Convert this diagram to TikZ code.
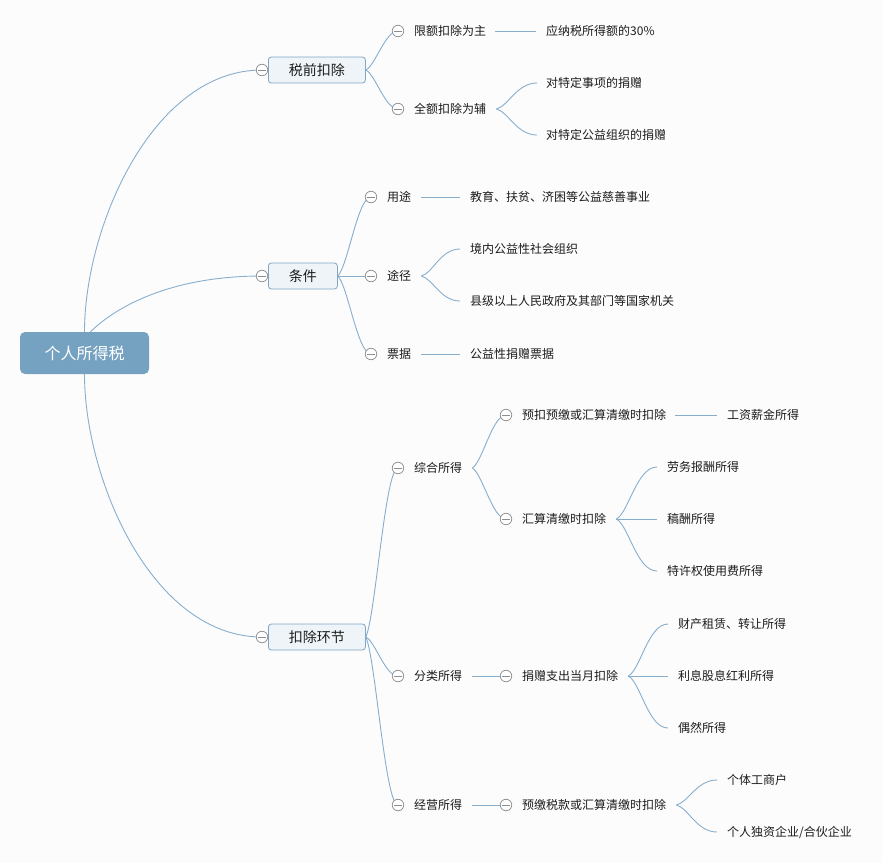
\documentclass[tikz,border=0pt]{standalone}
\usepackage{fontspec}
\newfontfamily\cjk{Noto Sans CJK SC}
\usetikzlibrary{calc}
\pgfdeclarelayer{bgl}
\pgfdeclarelayer{edges}
\pgfsetlayers{bgl,edges,main}
\definecolor{lineblue}{HTML}{88AECD}
\definecolor{rootblue}{HTML}{76A2C2}
\definecolor{boxblue}{HTML}{7FA7C5}
\definecolor{boxfill}{HTML}{EEF4F8}
\definecolor{circgray}{HTML}{8E8E8E}
\definecolor{bgcol}{HTML}{FCFCFD}
\definecolor{txtcol}{HTML}{1C1C1C}
\tikzset{
  conn/.style={draw=lineblue, line width=0.9pt},
  mini/.style={circle, draw=circgray, fill=white, minimum size=11.5pt, inner sep=0pt, line width=0.75pt,
    path picture={\draw[circgray, line width=0.75pt] ([xshift=-4pt]path picture bounding box.center) -- ([xshift=4pt]path picture bounding box.center);}},
  txt/.style={anchor=west, inner sep=0pt, text=txtcol, font=\cjk\fontsize{12}{14}\selectfont},
  topic/.style={anchor=west, rectangle, rounded corners=3pt, draw=boxblue, fill=boxfill, line width=0.8pt,
    text=txtcol, font=\cjk\fontsize{14}{16}\selectfont, minimum height=26pt, inner xsep=20.5pt, inner ysep=0pt},
  rootbox/.style={rectangle, rounded corners=5pt, fill=rootblue, text=white, font=\cjk\fontsize{16}{18}\selectfont,
    minimum width=129pt, minimum height=42pt, inner sep=0pt}
}
% curve ending horizontally at a leaf text
\newcommand\curv[2]{\draw[conn] let \p1=(#1), \p2=(#2) in (\p1) .. controls ({\x1+0.3*(\x2-\x1)},{\y1+0.12*(\y2-\y1)}) and ({\x1+0.5*(\x2-\x1)},\y2) .. (\p2);}
% curve ending at the centre of a collapse circle (hidden under it)
\newcommand\curc[2]{\draw[conn] let \p1=(#1), \p2=(#2) in (\p1) .. controls ({\x1+0.3*(\x2-\x1)},{\y1+0.12*(\y2-\y1)}) and ({\x2-0.4*(\x2-\x1)},\y2) .. (\p2);}
\begin{document}
\begin{tikzpicture}[x=1pt,y=1pt]
\begin{pgfonlayer}{bgl}
\fill[bgcol] (0,0) rectangle (882,-863);
\end{pgfonlayer}
\useasboundingbox (0,0) rectangle (882,-863);

% root
\node[rootbox] (root) at (84.5,-353) {个人所得税};

% level 1
\node[topic] (t1) at (268,-70) {税前扣除};
\node[topic] (t2) at (268,-276) {条件};
\node[topic] (t3) at (268,-637) {扣除环节};
\node[mini] (ct1) at ([xshift=-6pt]t1.west) {};
\node[mini] (ct2) at ([xshift=-6pt]t2.west) {};
\node[mini] (ct3) at ([xshift=-6pt]t3.west) {};

% ---- 税前扣除
\node[mini] (ca1) at (398,-31) {};
\node[txt] (a1) at (414,-31) {限额扣除为主};
\node[mini] (ca2) at (398,-109) {};
\node[txt] (a2) at (414,-109) {全额扣除为辅};
\node[txt] (a11) at (546,-31) {应纳税所得额的30\%};
\node[txt] (a21) at (546,-83) {对特定事项的捐赠};
\node[txt] (a22) at (546,-135) {对特定公益组织的捐赠};
\coordinate (a2o) at ([xshift=10pt]a2.east);

% ---- 条件
\node[mini] (cb1) at (371,-197) {};
\node[txt] (b1) at (387,-197) {用途};
\node[mini] (cb2) at (371,-276) {};
\node[txt] (b2) at (387,-276) {途径};
\node[mini] (cb3) at (371,-354) {};
\node[txt] (b3) at (387,-354) {票据};
\node[txt] (b11) at (470,-197) {教育、扶贫、济困等公益慈善事业};
\node[txt] (b21) at (470,-249) {境内公益性社会组织};
\node[txt] (b22) at (470,-301) {县级以上人民政府及其部门等国家机关};
\node[txt] (b31) at (470,-354) {公益性捐赠票据};
\coordinate (b2o) at ([xshift=10pt]b2.east);

% ---- 扣除环节
\node[mini] (cc1) at (398,-468) {};
\node[txt] (c1) at (414,-468) {综合所得};
\node[mini] (cc2) at (398,-676) {};
\node[txt] (c2) at (414,-676) {分类所得};
\node[mini] (cc3) at (398,-805) {};
\node[txt] (c3) at (414,-805) {经营所得};

\node[mini] (cd1) at (506,-415) {};
\node[txt] (d1) at (522,-415) {预扣预缴或汇算清缴时扣除};
\node[mini] (cd2) at (506,-519) {};
\node[txt] (d2) at (522,-519) {汇算清缴时扣除};
\coordinate (c1o) at ([xshift=10pt]c1.east);
\node[txt] (d11) at (727,-415) {工资薪金所得};
\node[txt] (d21) at (667,-467) {劳务报酬所得};
\node[txt] (d22) at (667,-519) {稿酬所得};
\node[txt] (d23) at (667,-571) {特许权使用费所得};
\coordinate (d2o) at ([xshift=10pt]d2.east);

\node[mini] (ce1) at (506,-676) {};
\node[txt] (e1) at (522,-676) {捐赠支出当月扣除};
\node[txt] (e11) at (678,-624) {财产租赁、转让所得};
\node[txt] (e12) at (678,-676) {利息股息红利所得};
\node[txt] (e13) at (678,-728) {偶然所得};
\coordinate (e1o) at ([xshift=10pt]e1.east);

\node[mini] (cf1) at (506,-805) {};
\node[txt] (f1) at (522,-805) {预缴税款或汇算清缴时扣除};
\node[txt] (f11) at (727,-780) {个体工商户};
\node[txt] (f12) at (727,-832) {个人独资企业/合伙企业};
\coordinate (f1o) at ([xshift=10pt]f1.east);

% ================= connectors
\begin{pgfonlayer}{edges}
\draw[conn] (root.north) .. controls +(0,104) and +(-110,0) .. (ct1.center);
\draw[conn] ([xshift=6pt]root.north) .. controls +(19,19) and +(-100,0) .. (ct2.center);
\draw[conn] (root.south) .. controls +(0,-105) and +(-110,0) .. (ct3.center);

\curc{t1.east}{ca1.center}
\curc{t1.east}{ca2.center}
\draw[conn] ([xshift=9pt]a1.east) -- ([xshift=-10pt]a11.west);
\curv{a2o}{[xshift=-9pt]a21.west}
\curv{a2o}{[xshift=-9pt]a22.west}

\curc{t2.east}{cb1.center}
\draw[conn] (t2.east) -- (cb2.center);
\curc{t2.east}{cb3.center}
\draw[conn] ([xshift=10pt]b1.east) -- ([xshift=-10pt]b11.west);
\curv{b2o}{[xshift=-10pt]b21.west}
\curv{b2o}{[xshift=-10pt]b22.west}
\draw[conn] ([xshift=10pt]b3.east) -- ([xshift=-10pt]b31.west);

\curc{t3.east}{cc1.center}
\curc{t3.east}{cc2.center}
\curc{t3.east}{cc3.center}

\curc{c1o}{cd1.center}
\curc{c1o}{cd2.center}
\draw[conn] ([xshift=9pt]d1.east) -- ([xshift=-10pt]d11.west);
\curv{d2o}{[xshift=-10pt]d21.west}
\draw[conn] (d2o) -- ([xshift=-10pt]d22.west);
\curv{d2o}{[xshift=-10pt]d23.west}

\draw[conn] ([xshift=10pt]c2.east) -- (ce1.center);
\curv{e1o}{[xshift=-10pt]e11.west}
\draw[conn] (e1o) -- ([xshift=-10pt]e12.west);
\curv{e1o}{[xshift=-10pt]e13.west}

\draw[conn] ([xshift=10pt]c3.east) -- (cf1.center);
\curv{f1o}{[xshift=-10pt]f11.west}
\curv{f1o}{[xshift=-10pt]f12.west}
\end{pgfonlayer}
\end{tikzpicture}
\end{document}
